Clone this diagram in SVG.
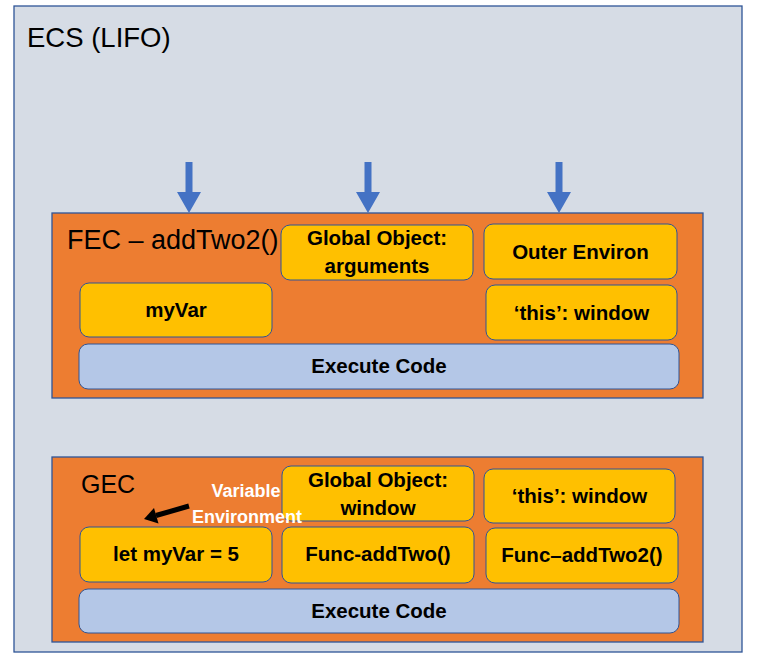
<svg xmlns="http://www.w3.org/2000/svg" width="758" height="660" viewBox="0 0 758 660">
<defs>
<style>
.ecs{fill:#D6DCE5;stroke:#2F5597;stroke-width:1.3}
.ctx{fill:#ED7D31;stroke:#2F5597;stroke-width:1.3}
.y{fill:#FFC000;stroke:#2F5597;stroke-width:1}
.ex{fill:#B4C7E7;stroke:#2F5597;stroke-width:1}
.title{font-family:"Liberation Sans",Arial,sans-serif;fill:#000}
.lbl{font-family:"Liberation Sans",Arial,sans-serif;font-weight:bold;font-size:20.5px;fill:#000;text-anchor:middle}
.ve{font-family:"Liberation Sans",Arial,sans-serif;font-weight:bold;font-size:18px;fill:#FFFFFF;text-anchor:middle}
.blue{fill:#4472C4}
</style>
</defs>
<g id="ecs">
<rect class="ecs" x="14" y="6" width="728" height="646"/>
<text class="title" x="27" y="47" font-size="27.5">ECS (LIFO)</text>
</g>
<g id="fec">
<rect class="ctx" x="52" y="213" width="651" height="185"/>
<text class="title" x="67" y="249" font-size="27">FEC – addTwo2()</text>
</g>
<g id="fec-global">
<rect class="y" x="281" y="225" width="192" height="55" rx="9"/>
<text class="lbl" x="377" y="245">Global Object:</text>
<text class="lbl" x="377" y="273">arguments</text>
</g>
<g id="fec-outer">
<rect class="y" x="484" y="224" width="193" height="55" rx="9"/>
<text class="lbl" x="580.5" y="259">Outer Environ</text>
</g>
<g id="fec-myvar">
<rect class="y" x="80" y="283" width="192" height="54" rx="9"/>
<text class="lbl" x="176" y="317">myVar</text>
</g>
<g id="fec-this">
<rect class="y" x="486" y="285" width="191" height="55" rx="9"/>
<text class="lbl" x="581.5" y="320">‘this’: window</text>
</g>
<g id="fec-exec">
<rect class="ex" x="79" y="344" width="600" height="45" rx="9"/>
<text class="lbl" x="379" y="373">Execute Code</text>
</g>
<g id="gec">
<rect class="ctx" x="52" y="457" width="651" height="185"/>
<text class="title" x="81" y="493" font-size="25">GEC</text>
</g>
<g id="gec-global">
<rect class="y" x="282" y="466" width="192" height="55" rx="9"/>
<text class="lbl" x="378" y="487">Global Object:</text>
<text class="lbl" x="378" y="515">window</text>
</g>
<g id="gec-this">
<rect class="y" x="484" y="469" width="191" height="54" rx="9"/>
<text class="lbl" x="579.5" y="503">‘this’: window</text>
</g>
<g id="gec-letmyvar">
<rect class="y" x="80" y="527" width="192" height="55" rx="9"/>
<text class="lbl" x="176" y="561">let myVar = 5</text>
</g>
<g id="gec-func-addtwo">
<rect class="y" x="282" y="527" width="192" height="56" rx="9"/>
<text class="lbl" x="378" y="561">Func-addTwo()</text>
</g>
<g id="gec-func-addtwo2">
<rect class="y" x="486" y="528" width="192" height="55" rx="9"/>
<text class="lbl" x="582" y="562">Func–addTwo2()</text>
</g>
<g id="gec-exec">
<rect class="ex" x="79" y="589" width="600" height="44" rx="9"/>
<text class="lbl" x="379" y="618">Execute Code</text>
</g>
<g id="connectors">
<path class="blue" d="M185.5,162 H192.5 V192 H201 L189,213 L177,192 H185.5 Z"/>
<path class="blue" d="M364.5,162 H371.5 V192 H380 L368,213 L356,192 H364.5 Z"/>
<path class="blue" d="M555.5,162 H562.5 V192 H571 L559,213 L547,192 H555.5 Z"/>
<line x1="189" y1="506" x2="156" y2="515.5" stroke="#000" stroke-width="5"/>
<polygon points="144,519 158.5,523.5 154,508" fill="#000"/>
</g>
<g id="variable-environment-label">
<text class="ve" x="246" y="497">Variable</text>
<text class="ve" x="247" y="523">Environment</text>
</g>
</svg>
